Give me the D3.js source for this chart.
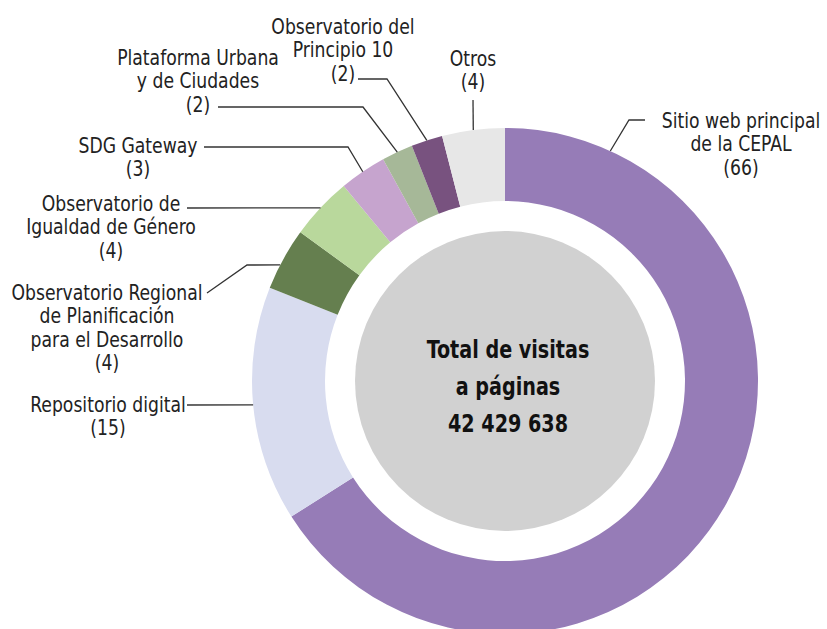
<!DOCTYPE html>
<html><head><meta charset="utf-8">
<script src="https://cdn.jsdelivr.net/npm/d3@7"></script>
<style>
body{margin:0;background:#fff;}
text{font-family:"Liberation Sans Narrow","DejaVu Sans Condensed","Arial Narrow",sans-serif;font-stretch:condensed;}
</style></head><body>
<svg id="chart" width="827" height="629"></svg>
<script>
const categories = ["Sitio web principal de la CEPAL","Repositorio digital","Observatorio Regional de Planificación para el Desarrollo","Observatorio de Igualdad de Género","SDG Gateway","Plataforma Urbana y de Ciudades","Observatorio del Principio 10","Otros"];
const values = [66, 15, 4, 4, 3, 2, 2, 4];
const colors = ["#967cb7","#d8dcef","#657f4f","#b9d89c","#c6a4ce","#a6b898","#78527f","#e7e7e7"];
const labelLines = [
  ["Sitio web principal","de la CEPAL","(66)"],
  ["Repositorio digital","(15)"],
  ["Observatorio Regional","de Planificación","para el Desarrollo","(4)"],
  ["Observatorio de","Igualdad de Género","(4)"],
  ["SDG Gateway","(3)"],
  ["Plataforma Urbana","y de Ciudades","(2)"],
  ["Observatorio del","Principio 10","(2)"],
  ["Otros","(4)"]
];
const centerLines = ["Total de visitas","a páginas","42 429 638"];

// layout (positions of label blocks and leader elbows)
const layout = [
  {x:741, y:128, start:[645,120], elbow:[629,120], angle:24.6},
  {x:108, y:412, start:[187,405], elbow:null, angle:null},
  {x:107, y:300, start:[207,293], elbow:[247,265], angle:297.3},
  {x:111, y:211, start:[187,208], elbow:null, angle:null},
  {x:138, y:153, start:[204,147], elbow:[348,147], angle:null},
  {x:198, y:65,  start:[218,107], elbow:[363,107], angle:null},
  {x:343, y:34,  start:[358,79],  elbow:[387,79],  angle:null},
  {x:473, y:66,  start:[473,100], elbow:null, angle:null}
];

const cx = 505, cy = 381, rOuter = 253, rInner = 180, rCenter = 150;
const lineH = 23.5;
const squeeze = 0.87;

const svg = d3.select("#chart");
const g = svg.append("g").attr("transform", `translate(${cx},${cy})`);

const pie = d3.pie().sort(null).value(d => d)(values);
const arc = d3.arc().innerRadius(rInner).outerRadius(rOuter);

g.selectAll("path.slice").data(pie).join("path")
  .attr("class","slice")
  .attr("d", arc)
  .attr("fill", (d,i) => colors[i]);

g.append("circle").attr("r", rCenter).attr("fill", "#d1d1d1");

// center text
const ct = g.append("g").attr("transform", `translate(3,0) scale(${squeeze},1)`);
ct.selectAll("text.center").data(centerLines).join("text")
  .attr("class","center")
  .attr("x", 0)
  .attr("y", (d,i) => -23 + i*37)
  .attr("text-anchor","middle")
  .attr("font-size", 24.5)
  .attr("font-weight", "bold")
  .attr("fill", "#111")
  .text(d => d);

// leaders
pie.forEach((p, i) => {
  const L = layout[i];
  const a = L.angle !== null ? L.angle * Math.PI/180 : (p.startAngle + p.endAngle)/2;
  const end = [cx + rOuter*Math.sin(a), cy - rOuter*Math.cos(a)];
  const pts = [L.start];
  if (L.elbow) pts.push(L.elbow);
  pts.push(end);
  svg.append("path")
    .attr("d", d3.line()(pts))
    .attr("fill","none")
    .attr("stroke","#333")
    .attr("stroke-width",1.3);
  const t = svg.append("g")
    .attr("transform", `translate(${L.x},0) scale(${squeeze},1)`)
    .append("text")
    .attr("text-anchor","middle")
    .attr("font-size", 22)
    .attr("fill","#222");
  labelLines[i].forEach((ln, k) => {
    t.append("tspan").attr("x", 0).attr("y", L.y + k*lineH).text(ln);
  });
});
</script>
</body></html>
